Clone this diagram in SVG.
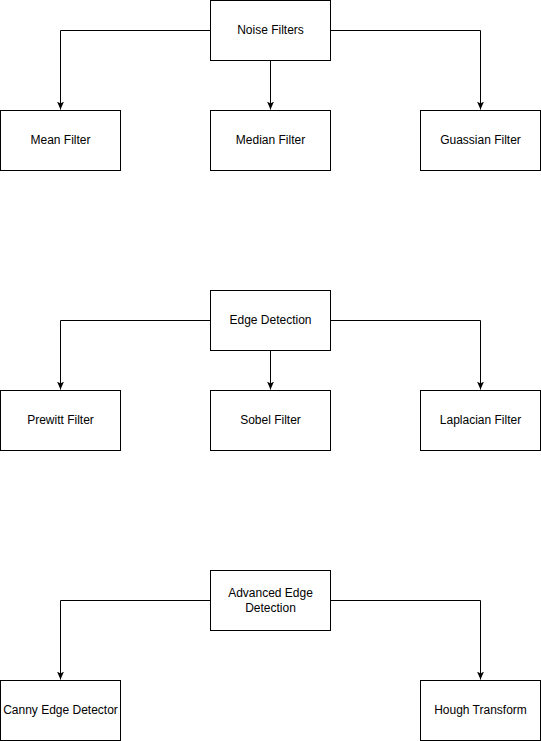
<svg xmlns="http://www.w3.org/2000/svg" width="541" height="741" viewBox="0 0 541 741">
<style>
.box{fill:#fff;stroke:#000;stroke-width:1}
.lbl{font-family:"Liberation Sans",Arial,sans-serif;font-size:12px;fill:#000;text-anchor:middle;dominant-baseline:central}
.edge{fill:none;stroke:#000;stroke-width:1}
</style>
<defs>
<marker id="arr" viewBox="0 0 8 8" refX="8" refY="4" markerWidth="8" markerHeight="8" markerUnits="userSpaceOnUse" orient="auto">
<path d="M0,0.5 L8,4 L0,7.5 L2,4 Z" fill="#000"/>
</marker>
</defs>
<rect width="541" height="741" fill="#fff"/>
<g id="connectors">
<path class="edge" d="M210.5,30.5 H60.5 V109.5" marker-end="url(#arr)"/>
<path class="edge" d="M270.5,60.5 V109.5" marker-end="url(#arr)"/>
<path class="edge" d="M330.5,30.5 H480.5 V109.5" marker-end="url(#arr)"/>
<path class="edge" d="M210.5,320.5 H60.5 V389.5" marker-end="url(#arr)"/>
<path class="edge" d="M270.5,350.5 V389.5" marker-end="url(#arr)"/>
<path class="edge" d="M330.5,320.5 H480.5 V389.5" marker-end="url(#arr)"/>
<path class="edge" d="M210.5,600.5 H60.5 V679.5" marker-end="url(#arr)"/>
<path class="edge" d="M330.5,600.5 H480.5 V679.5" marker-end="url(#arr)"/>
</g>
<g id="noise-filters"><rect class="box" x="210.5" y="0.5" width="120" height="60"/><text class="lbl" x="270.5" y="29.5">Noise Filters</text></g>
<g id="mean-filter"><rect class="box" x="0.5" y="110.5" width="120" height="60"/><text class="lbl" x="60.5" y="139.5">Mean Filter</text></g>
<g id="median-filter"><rect class="box" x="210.5" y="110.5" width="120" height="60"/><text class="lbl" x="270.5" y="139.5">Median Filter</text></g>
<g id="guassian-filter"><rect class="box" x="420.5" y="110.5" width="120" height="60"/><text class="lbl" x="480.5" y="139.5">Guassian Filter</text></g>
<g id="edge-detection"><rect class="box" x="210.5" y="290.5" width="120" height="60"/><text class="lbl" x="270.5" y="319.5">Edge Detection</text></g>
<g id="prewitt-filter"><rect class="box" x="0.5" y="390.5" width="120" height="60"/><text class="lbl" x="60.5" y="419.5">Prewitt Filter</text></g>
<g id="sobel-filter"><rect class="box" x="210.5" y="390.5" width="120" height="60"/><text class="lbl" x="270.5" y="419.5">Sobel Filter</text></g>
<g id="laplacian-filter"><rect class="box" x="420.5" y="390.5" width="120" height="60"/><text class="lbl" x="480.5" y="419.5">Laplacian Filter</text></g>
<g id="advanced-edge-detection"><rect class="box" x="210.5" y="570.5" width="120" height="60"/><text class="lbl" x="270.5" y="592.5">Advanced Edge</text><text class="lbl" x="270.5" y="607.5">Detection</text></g>
<g id="canny-edge-detector"><rect class="box" x="0.5" y="680.5" width="120" height="60"/><text class="lbl" x="60.5" y="709.5">Canny Edge Detector</text></g>
<g id="hough-transform"><rect class="box" x="420.5" y="680.5" width="120" height="60"/><text class="lbl" x="480.5" y="709.5">Hough Transform</text></g>
</svg>
